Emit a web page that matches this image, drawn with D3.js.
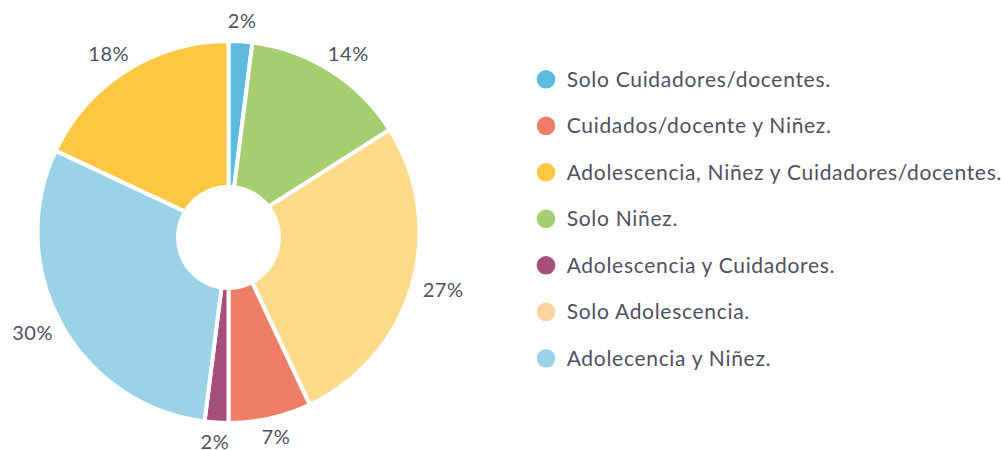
<!DOCTYPE html>
<html>
<head>
<meta charset="utf-8">
<script src="https://cdn.jsdelivr.net/npm/d3@7"></script>
<style>
html,body{margin:0;padding:0;background:#fff;}
svg{display:block;}
</style>
</head>
<body>
<svg id="chart" width="1004" height="450"></svg>
<script>
// Data (pie order, clockwise from top)
const pieCategories = ["Solo Cuidadores/docentes.", "Solo Niñez.", "Solo Adolescencia.", "Cuidados/docente y Niñez.", "Adolescencia y Cuidadores.", "Adolecencia y Niñez.", "Adolescencia, Niñez y Cuidadores/docentes."];
const pieValues = [2, 14, 27, 7, 2, 30, 18];
const pieColors = ["#5BBADD", "#A6CD6F", "#FEDB8A", "#EF7E67", "#A64F7C", "#9AD3E8", "#FDC743"];
// Legend order
const legendCategories = ["Solo Cuidadores/docentes.", "Cuidados/docente y Niñez.", "Adolescencia, Niñez y Cuidadores/docentes.", "Solo Niñez.", "Adolescencia y Cuidadores.", "Solo Adolescencia.", "Adolecencia y Niñez."];
const legendColors = ["#5BBADD", "#EF7E67", "#FDC743", "#A6CD6F", "#A64F7C", "#FAD39E", "#9AD3E8"];

const svg = d3.select("#chart");
const cx = 228.5, cy = 232, R = 191;
const holeR = 52.5, holeDy = 5.5;
const labelR = 203;
const fontFam = "Lato, 'Open Sans', sans-serif";
const textColor = "#4F5160";

const data = pieCategories.map((c, i) => ({cat: c, value: pieValues[i], color: pieColors[i]}));
const pie = d3.pie().value(d => d.value).sort(null);
const arcs = pie(data);
const arc = d3.arc().innerRadius(0).outerRadius(R);

const g = svg.append("g").attr("transform", `translate(${cx},${cy})`);
g.selectAll("path.slice").data(arcs).join("path")
  .attr("class", "slice")
  .attr("d", arc)
  .attr("fill", d => d.data.color)
  .attr("stroke", "#fff")
  .attr("stroke-width", 4)
  .attr("stroke-linejoin", "miter");

g.append("circle").attr("cx", 0).attr("cy", holeDy).attr("r", holeR).attr("fill", "#fff");

// Labels
const lbl = g.selectAll("text.lbl").data(arcs).join("text")
  .attr("class", "lbl")
  .attr("font-family", fontFam)
  .attr("font-size", 20)
  .attr("letter-spacing", 0.6)
  .attr("fill", textColor)
  .attr("text-anchor", "middle")
  .attr("dominant-baseline", "central")
  .text(d => d.data.value + "%");
lbl.each(function(d) {
  const a = (d.startAngle + d.endAngle) / 2;
  const bb = this.getBBox();
  const w = bb.width, h = 15;
  const px = labelR * Math.sin(a), py = -labelR * Math.cos(a);
  d3.select(this).attr("x", px + w / 2 * Math.sin(a)).attr("y", py - h / 2 * Math.cos(a) - 1.5);
});

// Legend
const lg = svg.append("g");
const legY = d3.scalePoint().domain(legendCategories).range([79.3, 358.3]);
const items = lg.selectAll("g.item").data(legendCategories).join("g")
  .attr("class", "item")
  .attr("transform", d => `translate(546,${legY(d)})`);
items.append("circle").attr("r", 9.3).attr("fill", (d, i) => legendColors[i]);
items.append("text")
  .attr("x", 20.7)
  .attr("y", 7.3)
  .attr("font-family", fontFam)
  .attr("font-size", 21)
  .attr("letter-spacing", 0.7)
  .attr("fill", textColor)
  .text(d => d);
</script>
</body>
</html>
